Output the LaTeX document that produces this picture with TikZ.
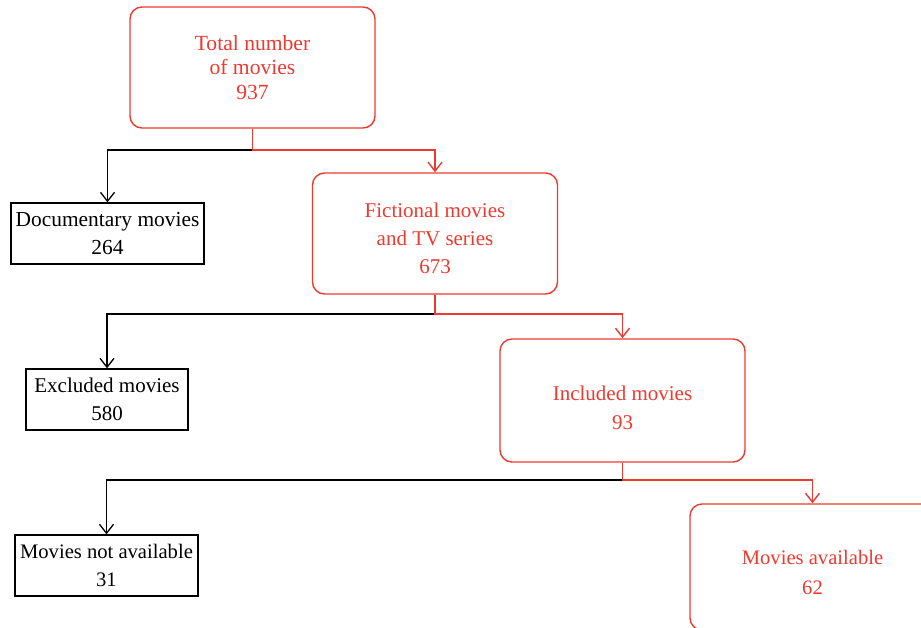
\documentclass[tikz,border=0pt]{standalone}
\usepackage{fontspec}
\setmainfont{Liberation Serif}
\usetikzlibrary{arrows.meta}
\definecolor{flowred}{RGB}{236,58,48}
\newcommand{\droptext}[1]{\rule{0pt}{#1}}

\begin{document}
\begin{tikzpicture}[
x=0.5pt, y=-0.5pt,
font=\fontsize{10.5}{14}\selectfont,
redbox/.style={rectangle, rounded corners=6pt, draw=flowred, text=flowred, line width=0.7pt, align=center, minimum width=122.5pt, minimum height=60.5pt, inner sep=0pt},
blackbox/.style={rectangle, draw=black, line width=0.65pt, align=center, minimum height=30.5pt, inner sep=0pt},
redline/.style={draw=flowred, line width=0.7pt, -{Straight Barb[length=4.5pt, width=7pt]}},
blackline/.style={draw=black, line width=0.65pt, -{Straight Barb[length=4.5pt, width=7pt]}}
]
\useasboundingbox (0,0) rectangle (921,627);

\node[redbox, font=\fontsize{10.8}{12.25}\selectfont] (total) at (252.5,67.5) {Total number\\of movies\\937};
\node[blackbox, minimum width=96.5pt, font=\fontsize{10.7}{14}\selectfont] (doc) at (107.5,233.5) {Documentary movies\\264};
\node[redbox] (fict) at (435,233.5) {\droptext{12pt}Fictional movies\\and TV series\\673};
\node[blackbox, minimum width=81pt] (excl) at (107,399.5) {Excluded movies\\580};
\node[redbox, minimum height=61.5pt, font=\fontsize{10.5}{14.5}\selectfont] (incl) at (622.5,400.5) {\droptext{14.5pt}Included movies\\93};
\node[redbox, minimum height=63pt, font=\fontsize{10.3}{15}\selectfont] (avail) at (812.5,567) {\droptext{12.5pt}Movies available\\62};
\node[blackbox, minimum width=91.5pt, font=\fontsize{10.3}{14}\selectfont] (notav) at (106.5,565.5) {Movies not available\\31};

\coordinate (split1) at (252.5,150);
\coordinate (split2) at (435,314);
\coordinate (split3) at (622.5,480);

% excluded branches
\draw[blackline] (split1) -| (doc.north);
\draw[blackline] (split2) -| (excl.north);
\draw[blackline] (split3) -| (notav.north);

% kept branches
\draw[redline] (total.south) -- (split1) -| (fict.north);
\draw[redline] (fict.south) -- (split2) -| (incl.north);
\draw[redline] (incl.south) -- (split3) -| (avail.north);
\end{tikzpicture}
\end{document}
